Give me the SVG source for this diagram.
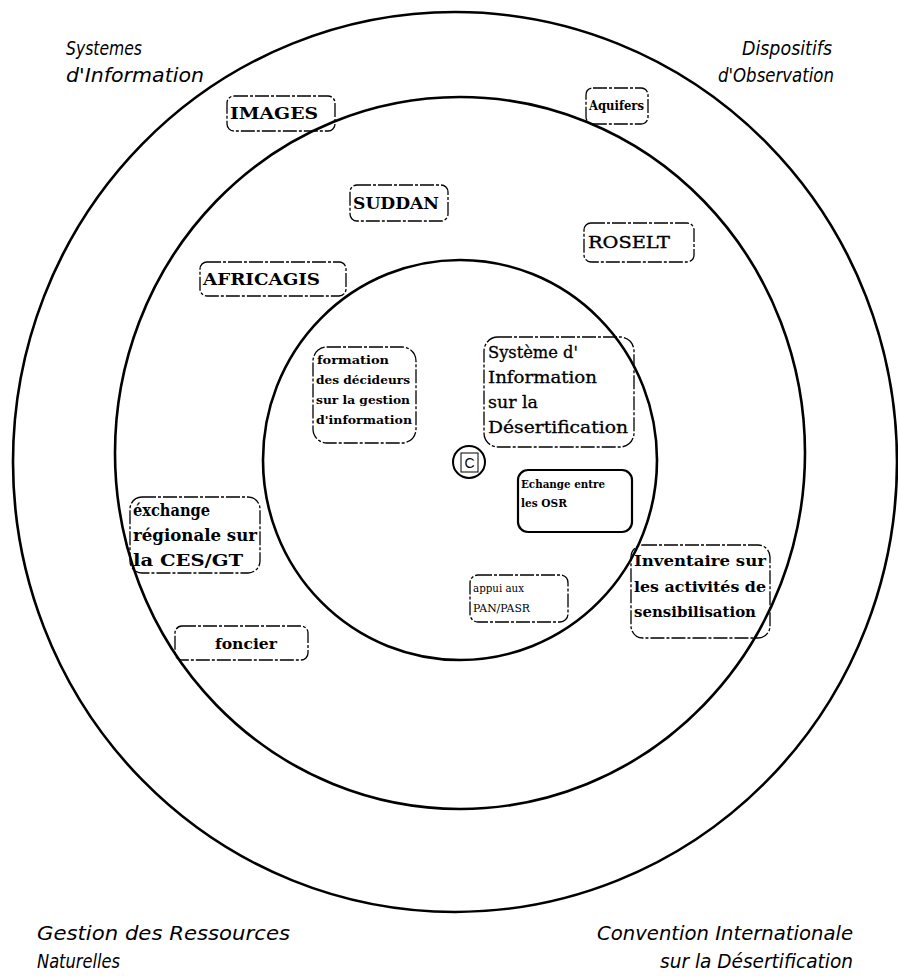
<svg xmlns="http://www.w3.org/2000/svg" width="898" height="977" viewBox="0 0 898 977">
<style>
.ring{fill:none;stroke:#000;stroke-width:2.6}
.box{fill:none;stroke:#000;stroke-width:1.3;stroke-dasharray:14 2 3 2}
.boxs{fill:none;stroke:#000;stroke-width:2.2}
.lab{font-family:"DejaVu Sans","Liberation Sans",sans-serif;font-style:italic;font-size:19px;fill:#000}
.t{font-family:"DejaVu Serif","Liberation Serif",serif;font-weight:bold;fill:#000}
.n{font-family:"DejaVu Serif","Liberation Serif",serif;fill:#000}
.s{font-family:"Liberation Sans",sans-serif;fill:#000}
</style>
<rect width="898" height="977" fill="#fff"/>
<g id="connectors">
<ellipse class="ring" cx="455" cy="462" rx="442" ry="450"/>
<ellipse class="ring" cx="460" cy="453" rx="345" ry="356"/>
<ellipse class="ring" cx="460" cy="460" rx="197" ry="200"/>
</g>
<g id="labels">
<text class="lab" x="66" y="55" textLength="76" lengthAdjust="spacingAndGlyphs">Systemes</text>
<text class="lab" x="66" y="82" textLength="138" lengthAdjust="spacingAndGlyphs">d'Information</text>
<text class="lab" x="742" y="55" textLength="90" lengthAdjust="spacingAndGlyphs">Dispositifs</text>
<text class="lab" x="718" y="82" textLength="116" lengthAdjust="spacingAndGlyphs">d'Observation</text>
<text class="lab" x="37" y="940" textLength="253" lengthAdjust="spacingAndGlyphs">Gestion des Ressources</text>
<text class="lab" x="37" y="968" textLength="83" lengthAdjust="spacingAndGlyphs">Naturelles</text>
<text class="lab" x="597" y="940" textLength="256" lengthAdjust="spacingAndGlyphs">Convention Internationale</text>
<text class="lab" x="660" y="968" textLength="193" lengthAdjust="spacingAndGlyphs">sur la Désertification</text>
</g>
<g id="n-images"><rect class="box" x="227" y="96" width="108" height="35" rx="7"/><text class="t" x="230" y="119" font-size="17" textLength="88" lengthAdjust="spacingAndGlyphs">IMAGES</text></g>
<g id="n-aquifers"><rect class="box" x="586" y="88" width="62" height="36" rx="7"/><text class="t" x="589" y="110" font-size="13.5" textLength="55" lengthAdjust="spacingAndGlyphs">Aquifers</text></g>
<g id="n-suddan"><rect class="box" x="350" y="185" width="98" height="36" rx="7"/><text class="t" x="353" y="209" font-size="16" textLength="86" lengthAdjust="spacingAndGlyphs">SUDDAN</text></g>
<g id="n-roselt"><rect class="box" x="584" y="223" width="110" height="39" rx="7"/><text class="n" x="588" y="248" font-size="17" stroke="#000" stroke-width="0.4" textLength="82" lengthAdjust="spacingAndGlyphs">ROSELT</text></g>
<g id="n-africagis"><rect class="box" x="200" y="262" width="146" height="34" rx="7"/><text class="t" x="203" y="285" font-size="16" textLength="117" lengthAdjust="spacingAndGlyphs">AFRICAGIS</text></g>
<g id="n-formation"><rect class="box" x="313" y="347" width="103" height="96" rx="14"/>
<text class="t" font-size="11.5"><tspan x="317" y="364" textLength="72" lengthAdjust="spacingAndGlyphs">formation</tspan><tspan x="316" y="384" textLength="94" lengthAdjust="spacingAndGlyphs">des décideurs</tspan><tspan x="316" y="404" textLength="94" lengthAdjust="spacingAndGlyphs">sur la gestion</tspan><tspan x="316" y="424" textLength="96" lengthAdjust="spacingAndGlyphs">d'information</tspan></text></g>
<g id="n-systeme"><rect class="box" x="484" y="337" width="150" height="110" rx="14"/>
<text class="n" font-size="16" stroke="#000" stroke-width="0.3"><tspan x="488" y="358" textLength="90" lengthAdjust="spacingAndGlyphs">Système d'</tspan><tspan x="488" y="383" textLength="109" lengthAdjust="spacingAndGlyphs">Information</tspan><tspan x="488" y="408" textLength="50" lengthAdjust="spacingAndGlyphs">sur la</tspan><tspan x="488" y="433" textLength="140" lengthAdjust="spacingAndGlyphs">Désertification</tspan></text></g>
<g id="n-c"><circle cx="469" cy="462" r="16" fill="none" stroke="#000" stroke-width="2"/><rect x="461" y="453" width="17" height="19" fill="none" stroke="#000" stroke-width="1"/><text class="s" x="469.5" y="468" font-size="14" text-anchor="middle">C</text></g>
<g id="n-echange"><rect class="boxs" x="518" y="470" width="114" height="62" rx="10"/>
<text class="t" font-size="11"><tspan x="521" y="488" textLength="84" lengthAdjust="spacingAndGlyphs">Echange entre</tspan><tspan x="521" y="507" textLength="46" lengthAdjust="spacingAndGlyphs">les OSR</tspan></text></g>
<g id="n-appui"><rect class="box" x="470" y="575" width="98" height="47" rx="8"/>
<text class="n" font-size="11.5"><tspan x="473" y="592" textLength="51" lengthAdjust="spacingAndGlyphs">appui aux</tspan><tspan x="473" y="612" textLength="57" lengthAdjust="spacingAndGlyphs">PAN/PASR</tspan></text></g>
<g id="n-inventaire"><rect class="box" x="631" y="545" width="139" height="93" rx="12"/>
<text class="t" font-size="14"><tspan x="634" y="566" textLength="132" lengthAdjust="spacingAndGlyphs">Inventaire sur</tspan><tspan x="634" y="592" textLength="132" lengthAdjust="spacingAndGlyphs">les activités de</tspan><tspan x="634" y="617" textLength="122" lengthAdjust="spacingAndGlyphs">sensibilisation</tspan></text></g>
<g id="n-exchange"><rect class="box" x="130" y="497" width="130" height="76" rx="12"/>
<text class="t" font-size="16"><tspan x="133" y="516" textLength="77" lengthAdjust="spacingAndGlyphs">éxchange</tspan><tspan x="133" y="541" textLength="124" lengthAdjust="spacingAndGlyphs">régionale sur</tspan><tspan x="133" y="566" textLength="110" lengthAdjust="spacingAndGlyphs">la CES/GT</tspan></text></g>
<g id="n-foncier"><rect class="box" x="175" y="626" width="133" height="34" rx="7"/><text class="t" x="215" y="649" font-size="15" textLength="62" lengthAdjust="spacingAndGlyphs">foncier</text></g>
</svg>
